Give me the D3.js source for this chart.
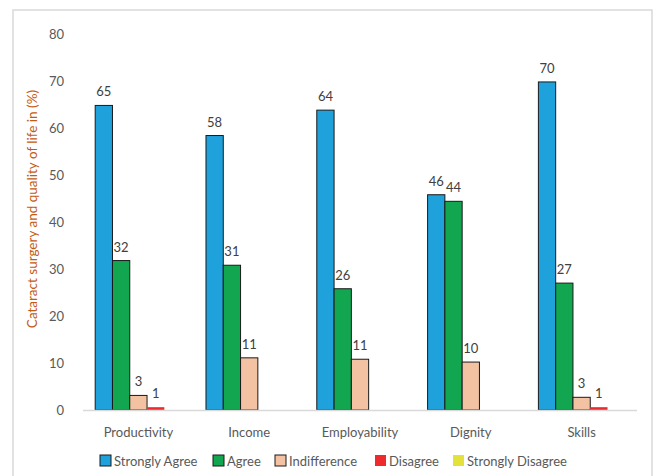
<!DOCTYPE html>
<html><head><meta charset="utf-8">
<script src="https://cdn.jsdelivr.net/npm/d3@7"></script>
<style>body{margin:0;background:#fff}svg{display:block;font-family:Lato,"Liberation Sans",sans-serif}</style>
</head><body><svg id="c" width="654" height="476"></svg>
<script>
const categories = ["Productivity","Income","Employability","Dignity","Skills"];
const seriesNames = ["Strongly Agree","Agree","Indifference","Disagree","Strongly Disagree"];
const stronglyAgree = [64.8, 58.4, 63.8, 45.8, 69.8];
const agree = [31.8, 30.8, 25.8, 44.4, 27.0];
const indifference = [3.1, 11.1, 10.8, 10.2, 2.7];
const disagree = [0.6, 0, 0, 0, 0.6];
const stronglyDisagree = [0, 0, 0, 0, 0];
const yTicks = [0,10,20,30,40,50,60,70,80];
const colors = ["#1FA1DB","#12A650","#F3C2A3","#EE2A2F","#E4E23A"];
const outlined = [true,true,true,false,false];
const series = [stronglyAgree, agree, indifference, disagree, stronglyDisagree];

const svg = d3.select("#c");
// outer frame
svg.append("rect").attr("x",13).attr("y",10).attr("width",639).attr("height",500)
  .attr("fill","none").attr("stroke","#d9d9d9").attr("stroke-width",1.5);

const x0 = d3.scaleBand().domain(categories).range([83,637]).paddingInner(0.22).paddingOuter(0.11);
const x1 = d3.scaleBand().domain(seriesNames).range([0,x0.bandwidth()]);
const y = d3.scaleLinear().domain([0,80]).range([410,34]);

// y tick labels
svg.append("g").selectAll("text").data(yTicks).join("text")
  .attr("x",64).attr("y",d=>y(d)+2).attr("text-anchor","end").attr("dominant-baseline","middle")
  .attr("font-size",13).attr("fill","#595959").text(d=>d);

// bars
const rows = categories.map((c,i)=>({c, vals: series.map((s,j)=>({k:seriesNames[j], j, v:s[i]}))}));
const g = svg.append("g").selectAll("g").data(rows).join("g").attr("transform",d=>`translate(${x0(d.c)},0)`);
g.selectAll("rect").data(d=>d.vals.filter(e=>e.v>0)).join("rect")
  .attr("x",d=>x1(d.k)).attr("width",x1.bandwidth())
  .attr("y",d=>y(d.v)).attr("height",d=>y(0)-y(d.v))
  .attr("fill",d=>colors[d.j])
  .attr("stroke",d=>outlined[d.j]?"#1a1a1a":"none").attr("stroke-width",1);
g.selectAll("text").data(d=>d.vals.filter(e=>e.v>0)).join("text")
  .attr("x",d=>x1(d.k)+x1.bandwidth()/2).attr("y",d=>y(d.v)-9)
  .attr("text-anchor","middle").attr("font-size",13).attr("fill","#404040")
  .text(d=>Math.round(d.v));

// x axis line
svg.append("line").attr("x1",83).attr("x2",637).attr("y1",410.5).attr("y2",410.5)
  .attr("stroke","#d9d9d9").attr("stroke-width",1.5);
// category labels
svg.append("g").selectAll("text").data(categories).join("text")
  .attr("x",d=>x0(d)+x0.bandwidth()/2).attr("y",437).attr("text-anchor","middle")
  .attr("font-size",13).attr("fill","#595959").text(d=>d);

// y title
svg.append("text").attr("transform","translate(37,209) rotate(-90)").attr("text-anchor","middle")
  .attr("font-size",13.5).attr("fill","#C55A11").text("Cataract surgery and quality of life in (%)");

// legend
const legX = [100,213,275,375,453];
const lg = svg.append("g").selectAll("g").data(seriesNames).join("g")
  .attr("transform",(d,i)=>`translate(${legX[i]},455)`);
lg.append("rect").attr("width",11).attr("height",11)
  .attr("fill",(d,i)=>colors[i]).attr("stroke",(d,i)=>outlined[i]?"#1a1a1a":"none");
lg.append("text").attr("x",14).attr("y",10.5).attr("font-size",13).attr("fill","#595959").text(d=>d);
</script></body></html>
